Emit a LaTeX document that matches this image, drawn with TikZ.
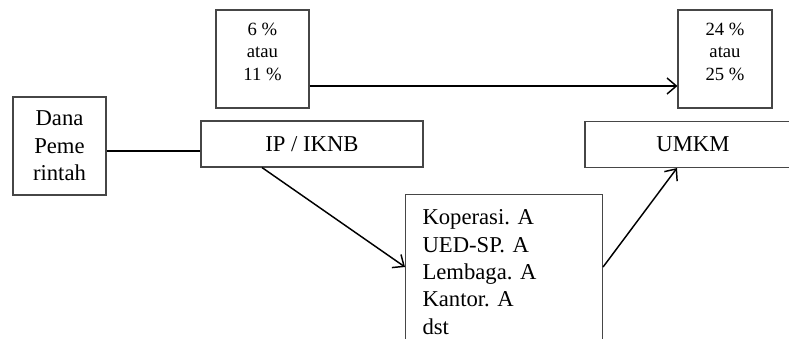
\documentclass[tikz,border=0pt]{standalone}
\usepackage{fontspec}
\setmainfont{Liberation Serif}
\frenchspacing
\usetikzlibrary{arrows.meta, positioning, calc}
\definecolor{boxgray}{RGB}{70,70,70}

\begin{document}
\begin{tikzpicture}[x=0.75pt,y=-0.75pt,
	kotak/.style={draw=boxgray, line width=0.8pt},
	teks/.style={font=\fontsize{17}{20.5}\selectfont},
	persen/.style={font=\fontsize{14}{17}\selectfont, align=center},
	panah/.style={line width=1.1pt, -{Straight Barb[length=7pt,width=12pt]}}]
	\clip (0,0) rectangle (789,339);
	\node[kotak, minimum width=69.75pt, minimum height=73.5pt,
		label={[persen,anchor=north,yshift=-6.5pt]north:{6 \%\\atau\\11 \%}}] (pct1) at (262.5,59) {};
	\node[kotak, minimum width=70.5pt, minimum height=73.5pt,
		label={[persen,anchor=north,yshift=-6.5pt]north:{24 \%\\atau\\25 \%}}] (pct2) at (725,59) {};
	\node[kotak, teks, align=center, minimum width=69.75pt, minimum height=73.5pt] (dana) at (59.5,146) {Dana\\Peme\\rintah};
	\node[kotak, teks, minimum width=166.5pt, minimum height=34.5pt] (ip) at (312,144) {IP / IKNB};
	\node[kotak, teks, minimum width=162pt, minimum height=34.5pt] (umkm) at (693,144.5) {UMKM};
	\node[kotak, teks, anchor=north west, text width=122.25pt, align=left, inner xsep=12.75pt, inner ysep=11.5pt] (koperasi) at (405,194)
		{Koperasi. A\\UED-SP. A\\Lembaga. A\\Kantor. A\\dst};
	\draw[panah] ([yshift=-20.25pt]pct1.east) -- ([yshift=-20.25pt]pct2.west);
	\draw[line width=0.8pt] ([yshift=-3.75pt]dana.east) -- ([yshift=-5.25pt]ip.west);
	\draw[panah] ([xshift=-37.5pt]ip.south) -- ([yshift=-54.75pt]koperasi.north west);
	\draw[panah] ([yshift=-54.75pt]koperasi.north east) -- ([xshift=-12pt]umkm.south);
\end{tikzpicture}
\end{document}
